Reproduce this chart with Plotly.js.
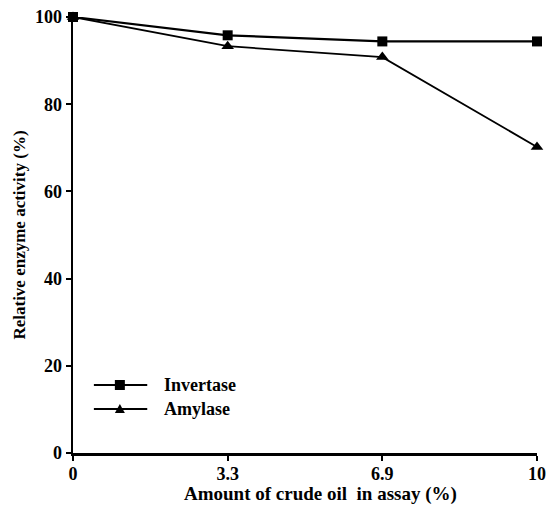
<!DOCTYPE html>
<html>
<head>
<meta charset="utf-8">
<script src="https://cdn.plot.ly/plotly-3.0.1.min.js"></script>
<style>html,body{margin:0;padding:0;background:#fff;}#chart{width:550px;height:505px;}</style>
</head>
<body>
<div id="chart"></div>
<script>
const categories = ['0', '3.3', '6.9', '10'];
const invertase = [100, 95.8, 94.4, 94.4];
const amylase = [100, 93.3, 90.8, 70.2];
const seriesNames = ['Invertase', 'Amylase'];
const xTitle = 'Amount of crude oil  in assay (%)';
const yTitle = 'Relative enzyme activity (%)';

const fam = 'Liberation Serif, Times New Roman, serif';
const bold = (size) => ({family: fam, size: size, color: '#000', weight: 'bold'});

const traces = [
  {x: categories, y: invertase, name: seriesNames[0], type: 'scatter', mode: 'lines+markers',
   line: {color: '#000', width: 2.2}, marker: {symbol: 'square', size: 10, color: '#000'}, cliponaxis: false},
  {x: categories, y: amylase, name: seriesNames[1], type: 'scatter', mode: 'lines+markers',
   line: {color: '#000', width: 1.8}, marker: {symbol: 'triangle-up', size: 11, color: '#000'}, cliponaxis: false}
];

// custom legend (sample line + marker + label), in paper coordinates
const legY = [0.156, 0.101];
const legShapes = [];
const legAnn = [];
seriesNames.forEach((nm, i) => {
  legShapes.push({type: 'line', xref: 'paper', yref: 'paper', x0: 0.045, x1: 0.160, y0: legY[i], y1: legY[i],
                  line: {color: '#000', width: 2}});
  if (i === 0) {
    legShapes.push({type: 'rect', xref: 'paper', yref: 'paper', xsizemode: 'pixel', ysizemode: 'pixel',
                    xanchor: 0.101, yanchor: legY[i], x0: -5, x1: 5, y0: -5, y1: 5,
                    fillcolor: '#000', line: {width: 0}});
  } else {
    legShapes.push({type: 'path', xref: 'paper', yref: 'paper', xsizemode: 'pixel', ysizemode: 'pixel',
                    xanchor: 0.101, yanchor: legY[i], path: 'M-5,-4L5,-4L0,5Z',
                    fillcolor: '#000', line: {width: 0}});
  }
  legAnn.push({xref: 'paper', yref: 'paper', x: 0.192, y: legY[i], xanchor: 'left', yanchor: 'middle',
               text: nm, showarrow: false, font: bold(18)});
});

const layout = {
  width: 550, height: 505,
  margin: {l: 73, r: 13, t: 17, b: 52},
  paper_bgcolor: '#fff', plot_bgcolor: '#fff',
  font: bold(18),
  showlegend: false,
  shapes: legShapes,
  annotations: legAnn.concat([
    {xref: 'paper', yref: 'paper', x: 0.533, y: -0.094, xanchor: 'center', yanchor: 'middle',
     text: xTitle, showarrow: false, font: bold(19)}
  ]),
  xaxis: {type: 'category', range: [0, 3], showgrid: false, zeroline: false,
          showline: true, linecolor: '#000', linewidth: 2.5,
          ticks: 'outside', ticklen: 5, tickwidth: 2, tickcolor: '#000',
          ticklabelstandoff: -2,
          tickfont: bold(18)},
  yaxis: {range: [0, 100], tickvals: [0, 20, 40, 60, 80, 100], showgrid: false, zeroline: false,
          showline: true, linecolor: '#000', linewidth: 2.5,
          ticks: 'outside', ticklen: 5, tickwidth: 2, tickcolor: '#000',
          tickfont: bold(18),
          title: {text: yTitle, font: bold(17), standoff: 5}}
};

Plotly.newPlot('chart', traces, layout, {displayModeBar: false, staticPlot: true});
</script>
</body>
</html>
